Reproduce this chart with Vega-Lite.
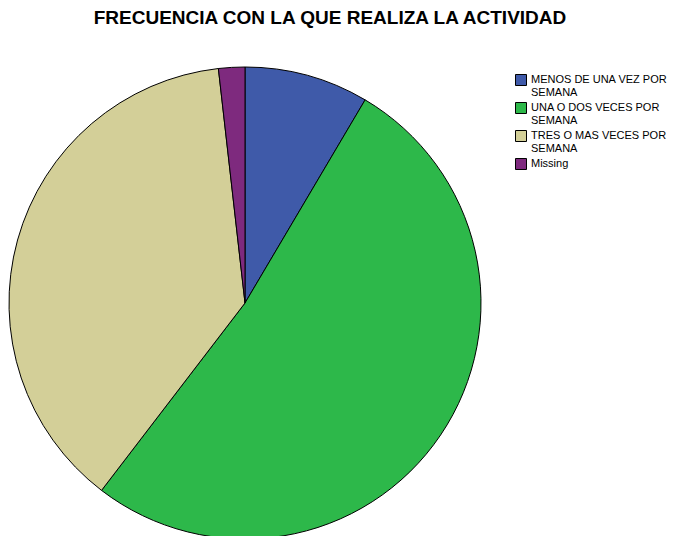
{
  "$schema": "https://vega.github.io/schema/vega-lite/v6.json",
  "width": 490,
  "height": 536,
  "autosize": {"type": "none"},
  "padding": {"top": 35, "left": 0, "right": 193, "bottom": 0},
  "background": "white",
  "title": {
    "text": "FRECUENCIA CON LA QUE REALIZA LA ACTIVIDAD",
    "font": "Liberation Sans",
    "fontSize": 19,
    "fontWeight": "bold",
    "color": "black",
    "anchor": "middle",
    "frame": "bounds",
    "offset": 7,
    "dx": -4
  },
  "data": {
    "values": [
      {"categoria": "MENOS DE UNA VEZ POR SEMANA", "orden": 1, "porcentaje": 8.5},
      {"categoria": "UNA O DOS VECES POR SEMANA", "orden": 2, "porcentaje": 51.9},
      {"categoria": "TRES O MAS VECES POR SEMANA", "orden": 3, "porcentaje": 37.8},
      {"categoria": "Missing", "orden": 4, "porcentaje": 1.8}
    ]
  },
  "mark": {"type": "arc", "radius": 236, "stroke": "black", "strokeWidth": 1},
  "encoding": {
    "theta": {"field": "porcentaje", "type": "quantitative", "stack": true},
    "order": {"field": "orden", "type": "quantitative"},
    "color": {
      "field": "categoria",
      "type": "nominal",
      "sort": ["MENOS DE UNA VEZ POR SEMANA", "UNA O DOS VECES POR SEMANA", "TRES O MAS VECES POR SEMANA", "Missing"],
      "scale": {
        "domain": ["MENOS DE UNA VEZ POR SEMANA", "UNA O DOS VECES POR SEMANA", "TRES O MAS VECES POR SEMANA", "Missing"],
        "range": ["#3F5AA9", "#2DB84A", "#D3CF98", "#7E2A7E"]
      },
      "legend": {
        "title": null,
        "orient": "none",
        "legendX": 515,
        "legendY": 39,
        "symbolType": "square",
        "symbolSize": 121,
        "symbolStrokeColor": "black",
        "symbolStrokeWidth": 1,
        "symbolOpacity": 1,
        "labelFont": "Liberation Sans",
        "labelFontSize": 11,
        "labelColor": "black",
        "labelLimit": 200,
        "labelOffset": 4,
        "rowPadding": 2,
        "labelExpr": "datum.label == 'Missing' ? datum.label : [replace(datum.label, ' SEMANA', ''), 'SEMANA']"
      }
    }
  }
}
